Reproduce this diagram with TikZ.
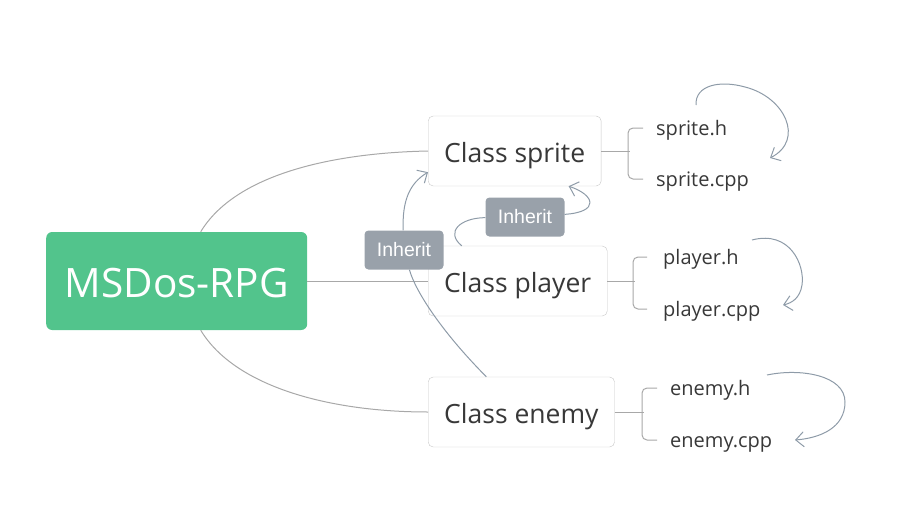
\documentclass[tikz,border=0pt]{standalone}
\usepackage{fontspec}
\setmainfont{Open Sans}
\newfontfamily\tagfont{Liberation Sans}
\usetikzlibrary{arrows.meta,calc}
\definecolor{rootgreen}{HTML}{52C48C}
\definecolor{tagGray}{HTML}{99A1AA}
\definecolor{boxline}{HTML}{C8C8C8}
\definecolor{branch}{HTML}{A8A8A8}
\definecolor{loopline}{HTML}{8E9BA8}
\definecolor{txt}{HTML}{383838}

\begin{document}
\begin{tikzpicture}[x=1pt, y=-1pt, >={Straight Barb[length=8pt,width=15pt]},
    rootbox/.style={fill=rootgreen, rounded corners=6pt, text=white, font=\fontsize{40.5}{44}\selectfont,
      text height=33pt, text depth=0pt, minimum width=261pt, minimum height=98pt, anchor=west},
    classbox/.style={draw=boxline, fill=white, rounded corners=5pt, text=txt, font=\fontsize{26.5}{30}\selectfont,
      text height=23pt, text depth=0pt, inner xsep=16pt, minimum height=70pt, anchor=west},
    file/.style={text=txt, font=\fontsize{20}{22}\selectfont, inner sep=0pt, text height=15pt, text depth=0pt, anchor=west},
    tag/.style={fill=tagGray, rounded corners=4pt, text=white, font=\tagfont\fontsize{19.5}{22}\selectfont,
      inner sep=0pt, minimum width=79pt, minimum height=39pt}]
        \useasboundingbox (0,0) rectangle (918,506);

        % root
        \node[rootbox] (root) at (46,281) {MSDos-RPG};

        % classes
        \node[classbox] (sprite) at (428,151) {Class sprite};
        \node[classbox] (player) at (428,281) {Class player};
        \node[classbox] (enemy) at (428,412) {Class enemy};

        % root -> classes
        \draw[branch, line width=1pt] ([xshift=24pt]root.north) .. controls (235,175) and (330,153) .. (sprite.west);
        \draw[branch, line width=1pt] (root.east) -- (player.west);
        \draw[branch, line width=1pt] ([xshift=24pt]root.south) .. controls (235,387) and (330,412) .. (enemy.west);

        % files
        \node[file] (spriteh) at (656,128) {sprite.h};
        \node[file] (spritecpp) at (656,179) {sprite.cpp};
        \node[file] (playerh) at (663,257) {player.h};
        \node[file] (playercpp) at (663,309) {player.cpp};
        \node[file] (enemyh) at (670,388) {enemy.h};
        \node[file] (enemycpp) at (670,440) {enemy.cpp};

        % brackets
        \draw[branch, line width=1pt] (sprite.east) -- ++(29,0);
        \draw[branch, line width=1pt, rounded corners=5pt] ([xshift=-13pt]spriteh.west) -- ++(-15,0) |- ([xshift=-13pt]spritecpp.west);
        \draw[branch, line width=1pt] (player.east) -- ++(28,0);
        \draw[branch, line width=1pt, rounded corners=5pt] ([xshift=-16pt]playerh.west) -- ++(-14,0) |- ([xshift=-16pt]playercpp.west);
        \draw[branch, line width=1pt] (enemy.east) -- ++(29,0);
        \draw[branch, line width=1pt, rounded corners=5pt] ([xshift=-13pt]enemyh.west) -- ++(-15,0) |- ([xshift=-13pt]enemycpp.west);

        % .h -> .cpp loops
        \draw[->, loopline, line width=1pt] ($(spriteh.west)+(40,-23)$) .. controls (695,85) and (720,80) .. (745,87)
            .. controls (785,97) and (805,140) .. ($(spritecpp.west)+(114,-21)$);
        \draw[->, loopline, line width=1pt] ($(playerh.west)+(89,-17)$) .. controls (790,230) and (805,265) .. (802,285)
            .. controls (800,298) and (792,303) .. ($(playercpp.west)+(120,-4)$);
        \draw[->, loopline, line width=1pt] ($(enemyh.west)+(97,-13)$) .. controls (800,368) and (845,375) .. (845,402)
            .. controls (845,428) and (820,438) .. ($(enemycpp.west)+(125,0)$);

        % inherit tags
        \node[tag] (inh1) at (404,250) {Inherit};
        \node[tag] (inh2) at (525,217) {Inherit};

        % enemy -> sprite
        \draw[loopline, line width=1pt] ([xshift=-35pt]enemy.north) .. controls (440,330) and (415,290) .. (inh1);
        \draw[->, loopline, line width=1pt] (inh1) .. controls (402,200) and (410,183) .. ([yshift=14pt]sprite.south west);

        % player -> sprite
        \draw[loopline, line width=1pt] ([xshift=-56pt]player.north) .. controls (445,232) and (460,218) .. (inh2);
        \draw[->, loopline, line width=1pt] (inh2) .. controls (600,212) and (595,195) .. ([xshift=54pt]sprite.south);
\end{tikzpicture}
\end{document}
